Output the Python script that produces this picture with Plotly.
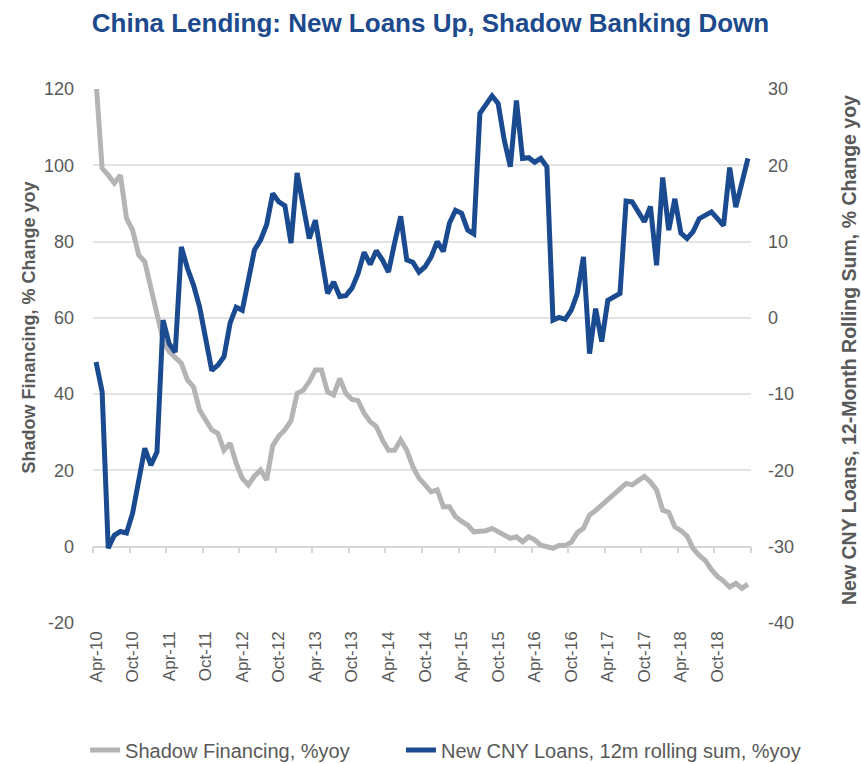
import plotly.graph_objects as go
import pandas as pd

months = list(pd.date_range("2010-04-01", "2019-03-01", freq="MS").strftime("%b-%y"))

shadow_financing = [
    122, 99.2, 97.4, 95.3, 97.4, 86.1, 83.0, 76.5, 74.7, 68.2,
    61.2, 54.2, 51.1, 49.8, 48.1, 43.7, 41.9, 35.8, 33.2, 30.6,
    29.7, 25.3, 27.1, 21.9, 17.9, 16.2, 18.5, 20.1, 17.5, 26.5,
    29.0, 30.7, 33.0, 40.2, 41.0, 43.3, 46.3, 46.3, 40.6, 39.8,
    44.1, 40.2, 38.6, 38.3, 35.0, 32.8, 31.5, 28.0, 25.3, 25.3,
    28.0, 25.3, 21.0, 18.0, 16.2, 14.4, 14.9, 10.5, 10.5, 7.9,
    6.6, 5.7, 3.9, 3.9, 4.2, 4.8, 3.9, 3.1, 2.2, 2.6,
    1.3, 2.6, 1.8, 0.4, 0.0, -0.4, 0.4, 0.3, 1.2, 3.7,
    4.8, 8.3, 9.5, 11.0, 12.2, 14.0, 15.3, 16.6, 16.2, 17.5,
    18.4, 17.0, 14.9, 9.6, 9.0, 5.2, 4.2, 2.8, -0.5, -2.3,
    -3.6, -6.0, -7.8, -9.0, -10.6, -9.6, -10.9, -9.8,
]

new_cny_loans = [
    -5.8, -9.7, -30.2, -28.5, -28.0, -28.2, -25.6, -21.3, -17.1, -19.3,
    -17.6, -0.3, -3.4, -4.5, 9.3, 6.5, 4.3, 1.4, -3.1, -6.9,
    -6.2, -5.1, -0.7, 1.4, 1.0, 5.4, 8.9, 10.2, 12.2, 16.3,
    15.2, 14.7, 9.8, 19.0, 14.6, 10.4, 12.8, 8.0, 3.2, 4.7,
    2.8, 2.9, 3.9, 5.8, 8.6, 7.0, 8.8, 7.6, 6.0, 9.8,
    13.3, 7.6, 7.3, 6.0, 6.7, 8.0, 10.0, 8.7, 12.4, 14.1,
    13.7, 11.5, 11.0, 26.8, 28.0, 29.1, 28.1, 23.3, 19.8, 28.5,
    20.9, 21.0, 20.4, 20.9, 19.8, -0.3, 0.05, -0.2, 1.0, 3.2,
    8.0, -4.7, 1.2, -3.1, 2.3, 2.8, 3.2, 15.3, 15.2, 13.9,
    12.6, 14.6, 6.9, 18.4, 11.5, 15.6, 11.1, 10.4, 11.3, 13.0,
    13.5, 13.9, 13.0, 12.1, 19.7, 14.5, 17.7, 20.9,
]

tick_labels = ["Apr-10", "Oct-10", "Apr-11", "Oct-11", "Apr-12", "Oct-12",
               "Apr-13", "Oct-13", "Apr-14", "Oct-14", "Apr-15", "Oct-15",
               "Apr-16", "Oct-16", "Apr-17", "Oct-17", "Apr-18", "Oct-18"]

left_ticks = [-20, 0, 20, 40, 60, 80, 100, 120]
right_ticks = [-40, -30, -20, -10, 0, 10, 20, 30]

FONT = "Liberation Sans, Arial, sans-serif"
TXT = "#595959"
GRID = "#e3e3e3"

fig = go.Figure()
fig.add_trace(go.Scatter(
    x=months, y=shadow_financing, mode="lines", name="Shadow Financing, %yoy",
    line=dict(color="#b4b4b4", width=5), yaxis="y", legend="legend"))
fig.add_trace(go.Scatter(
    x=months, y=new_cny_loans, mode="lines", name="New CNY Loans, 12m rolling sum, %yoy",
    line=dict(color="#1a4a90", width=5), yaxis="y2", legend="legend2"))
# helper trace so the zero-crossing axis with tick marks is drawn
fig.add_trace(go.Scatter(x=[None], y=[None], xaxis="x2", yaxis="y",
                         showlegend=False, hoverinfo="skip"))

n = len(months)
fig.update_layout(
    width=861, height=764,
    margin=dict(l=93, r=110, t=89, b=141, autoexpand=False),
    paper_bgcolor="white", plot_bgcolor="white",
    font=dict(family=FONT, color=TXT, size=17),
    title=dict(text="<b>China Lending: New Loans Up, Shadow Banking Down</b>",
               x=0.5, xanchor="center", y=0.970, yanchor="middle",
               font=dict(family=FONT, size=26, color="#1d4a8c")),
    xaxis=dict(type="category", range=[-0.5, n - 0.5],
               tickmode="array", tickvals=[m for m in months if m[:3] in ("Apr", "Oct")],
               ticktext=tick_labels, tickangle=-90,
               showgrid=False, showline=False, zeroline=False, ticks="",
               ticklabelstandoff=4,
               tickfont=dict(size=17, color=TXT)),
    xaxis2=dict(type="linear", overlaying="x", anchor="free", position=20 / 140,
                range=[-0.5, n - 0.5], tickmode="array",
                tickvals=[k - 0.5 for k in range(0, n + 1, 6)],
                showticklabels=False, ticks="outside", ticklen=6, tickwidth=1.5,
                tickcolor="#d6d6d6", showline=True, linecolor="#d6d6d6", linewidth=1.5,
                showgrid=False, zeroline=False, layer="below traces"),
    yaxis=dict(range=[-20, 120], tickmode="array", tickvals=left_ticks,
               ticktext=[str(v) for v in left_ticks], showgrid=True, gridcolor=GRID,
               gridwidth=1.5, zeroline=False, showline=False, ticks="",
               ticklabelstandoff=18, tickfont=dict(size=18, color=TXT)),
    yaxis2=dict(range=[-40, 30], tickmode="array", tickvals=right_ticks,
                ticktext=[str(v) for v in right_ticks], overlaying="y", side="right",
                showgrid=False, zeroline=False, showline=False, ticks="",
                ticklabelstandoff=16, tickfont=dict(size=18, color=TXT)),
    legend=dict(orientation="h", x=-0.012, xanchor="left", y=-0.238, yanchor="middle",
                font=dict(size=20, color=TXT), bgcolor="rgba(0,0,0,0)"),
    legend2=dict(orientation="h", x=0.468, xanchor="left", y=-0.238, yanchor="middle",
                 font=dict(size=20, color=TXT), bgcolor="rgba(0,0,0,0)"),
    showlegend=True,
    annotations=[
        dict(text="<b>Shadow Financing, % Change yoy</b>", textangle=-90,
             xref="paper", yref="paper", x=(28 - 93) / 658, y=(623 - 327.5) / 534,
             xanchor="center", yanchor="middle", showarrow=False,
             font=dict(size=18, color=TXT)),
        dict(text="<b>New CNY Loans, 12-Month Rolling Sum, % Change yoy</b>", textangle=-90,
             xref="paper", yref="paper", x=(849 - 93) / 658, y=(623 - 350) / 534,
             xanchor="center", yanchor="middle", showarrow=False,
             font=dict(size=19.5, color=TXT)),
    ],
)

fig.write_html("out.html")
